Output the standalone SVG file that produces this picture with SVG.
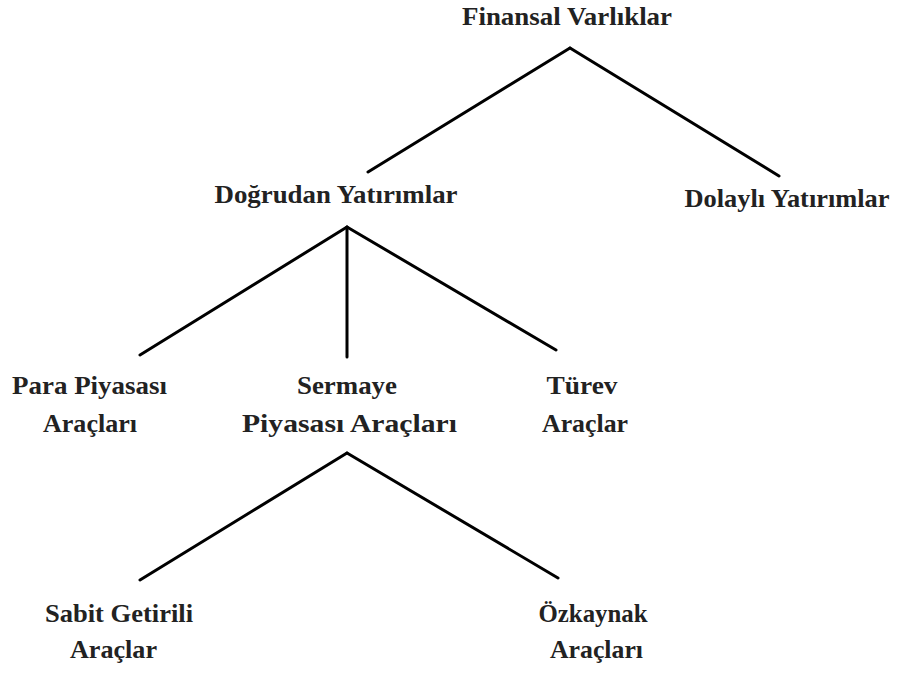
<svg xmlns="http://www.w3.org/2000/svg" width="898" height="673" viewBox="0 0 898 673">
<style>
text{font-family:"Liberation Serif","DejaVu Serif",serif;font-weight:bold;font-size:25px;fill:#222;text-anchor:middle}
.c line{stroke:#000;stroke-width:3;stroke-linecap:round}
</style>
<rect width="898" height="673" fill="#fff"/>
<g class="c" id="connectors">
<line x1="570" y1="48" x2="368" y2="172"/>
<line x1="570" y1="48" x2="779" y2="176"/>
<line x1="347" y1="227" x2="140" y2="355"/>
<line x1="347" y1="227" x2="347" y2="357"/>
<line x1="347" y1="227" x2="556" y2="350"/>
<line x1="347" y1="453" x2="140" y2="580"/>
<line x1="347" y1="453" x2="558" y2="578"/>
</g>
<g id="finansal"><text x="567" y="25" textLength="210" lengthAdjust="spacingAndGlyphs">Finansal Varlıklar</text></g>
<g id="dogrudan"><text x="336" y="203" textLength="243" lengthAdjust="spacingAndGlyphs">Doğrudan Yatırımlar</text></g>
<g id="dolayli"><text x="787" y="207" textLength="205" lengthAdjust="spacingAndGlyphs">Dolaylı Yatırımlar</text></g>
<g id="para"><text x="89.5" y="394" textLength="155" lengthAdjust="spacingAndGlyphs">Para Piyasası</text><text x="90" y="432" textLength="94" lengthAdjust="spacingAndGlyphs">Araçları</text></g>
<g id="sermaye"><text x="347" y="394" textLength="100" lengthAdjust="spacingAndGlyphs">Sermaye</text><text x="349.5" y="432" textLength="215" lengthAdjust="spacingAndGlyphs">Piyasası Araçları</text></g>
<g id="turev"><text x="582" y="394" textLength="71" lengthAdjust="spacingAndGlyphs">Türev</text><text x="585" y="432" textLength="86" lengthAdjust="spacingAndGlyphs">Araçlar</text></g>
<g id="sabit"><text x="119" y="622" textLength="148" lengthAdjust="spacingAndGlyphs">Sabit Getirili</text><text x="113.5" y="658" textLength="87" lengthAdjust="spacingAndGlyphs">Araçlar</text></g>
<g id="ozkaynak"><text x="593" y="622" textLength="109" lengthAdjust="spacingAndGlyphs">Özkaynak</text><text x="596.5" y="658" textLength="93" lengthAdjust="spacingAndGlyphs">Araçları</text></g>
</svg>
